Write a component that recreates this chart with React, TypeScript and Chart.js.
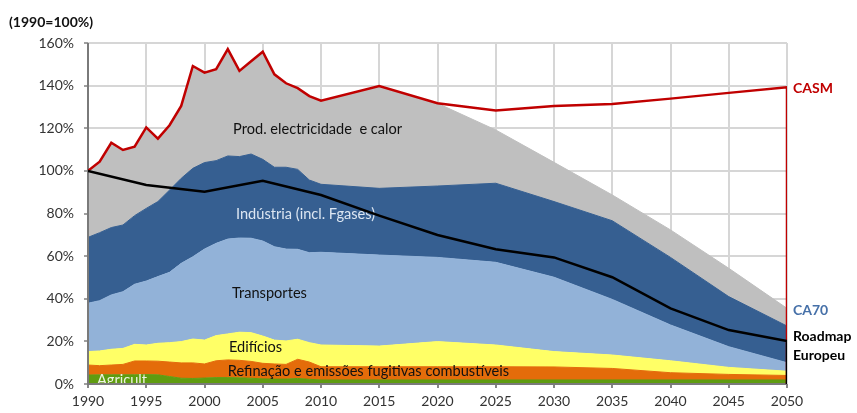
import React, { useEffect, useRef } from "react";
import { Chart, registerables } from "chart.js";

Chart.register(...registerables);

// ---- data (% of 1990 emissions) ----
const years = [
  1990, 1991, 1992, 1993, 1994, 1995, 1996, 1997, 1998, 1999, 2000,
  2001, 2002, 2003, 2004, 2005, 2006, 2007, 2008, 2009, 2010,
  2015, 2020, 2025, 2030, 2035, 2040, 2045, 2050,
];
const agriculture = [
  4.2, 4.3, 4.3, 4.3, 4.3, 4.4, 4.3, 3.5, 2.7, 2.6, 2.8,
  3.0, 3.0, 2.9, 2.7, 2.4, 2.3, 2.3, 2.6, 2.2, 1.9,
  1.9, 1.9, 1.9, 1.9, 1.9, 1.9, 1.9, 1.9,
];
const refining = [
  4.7, 4.3, 4.6, 4.9, 6.5, 6.4, 6.4, 6.8, 7.2, 7.3, 6.6,
  7.9, 8.3, 8.2, 7.9, 7.3, 7.1, 6.9, 9.0, 8.1, 6.2,
  6.2, 6.2, 6.2, 6.1, 5.4, 3.4, 2.6, 2.1,
];
const buildings = [
  6.3, 6.9, 7.4, 7.5, 7.8, 7.5, 8.4, 9.1, 10.0, 11.2, 11.2,
  11.8, 12.2, 13.2, 13.5, 12.8, 11.2, 11.0, 9.4, 9.1, 10.2,
  9.7, 11.8, 10.2, 7.2, 6.3, 5.6, 3.3, 2.0,
];
const transport = [
  22.7, 23.6, 25.5, 26.6, 28.2, 30.0, 31.3, 33.0, 36.7, 38.6, 42.7,
  43.3, 44.5, 44.2, 44.3, 44.6, 43.8, 43.1, 42.2, 42.2, 43.5,
  42.7, 39.5, 38.8, 34.9, 26.1, 16.8, 9.7, 4.0,
];
const industry = [
  30.9, 31.9, 31.6, 31.3, 32.2, 34.1, 35.2, 38.6, 39.9, 41.5, 40.6,
  38.8, 39.0, 38.2, 39.5, 38.3, 37.3, 38.4, 37.5, 34.1, 31.9,
  31.3, 33.5, 37.1, 35.5, 36.9, 31.7, 23.5, 17.2,
];
const electricity = [
  31.2, 33.3, 39.8, 35.2, 32.4, 38.0, 29.5, 30.4, 34.0, 48.0, 42.2,
  42.9, 50.1, 40.2, 43.5, 50.5, 43.6, 39.4, 38.1, 39.4, 39.2,
  48.0, 38.8, 25.0, 18.4, 12.1, 12.9, 13.3, 8.3,
];
const casm = [
  100, 104.3, 113.2, 109.8, 111.4, 120.4, 115.1, 121.4, 130.5, 149.2, 146.1,
  147.7, 157.1, 146.9, 151.4, 155.9, 145.3, 141.1, 138.8, 135.1, 132.9,
  139.8, 131.7, 128.3, 130.4, 131.4, 133.9, 136.6, 139.2,
];
const roadmapYears = [1990, 1995, 2000, 2005, 2010, 2015, 2020, 2025, 2030, 2035, 2040, 2045, 2050];
const roadmap = [100, 93.4, 90.2, 95.4, 88.7, 79.0, 69.9, 63.2, 59.4, 50.1, 35.5, 25.3, 20.2];

const sectorNames = [
  "Agricultura",
  "Refinação e emissões fugitivas combustíveis",
  "Edifícios",
  "Transportes",
  "Indústria (incl. Fgases)",
  "Prod. electricidade e calor",
];
const sectorColors = ["#5f9c10", "#e46c0a", "#ffff66", "#92b2d8", "#365f91", "#bfbfbf"];

// in-chart labels: [text, year, value, colour]
const areaLabels: [string, number, number, string][] = [
  ["Prod. electricidade  e calor", 2002.45, 119.7, "#111111"],
  ["Indústria (incl. Fgases)", 2002.7, 79.8, "#dce6f2"],
  ["Transportes", 2002.36, 42.7, "#111111"],
  ["Edifícios", 2002.1, 17.4, "#111111"],
  ["Refinação e emissões fugitivas combustíveis", 2002.0, 5.8, "#111111"],
  ["Agricult..", 1990.77, 1.9, "#eef3e2"],
];

const FONT = "Lato, 'Open Sans', sans-serif";

export default function App() {
  const ref = useRef<HTMLCanvasElement>(null);

  useEffect(() => {
    const sectors = [agriculture, refining, buildings, transport, industry, electricity];
    const cum: number[][] = [];
    sectors.forEach((s, k) => {
      cum.push(s.map((v, i) => (k ? cum[k - 1][i] : 0) + v));
    });

    const areaDatasets = cum.map((c, k) => ({
      type: "line" as const,
      label: sectorNames[k],
      data: c.map((v, i) => ({ x: years[i], y: v })),
      fill: k === 0 ? "origin" : "-1",
      backgroundColor: sectorColors[k],
      borderColor: sectorColors[k],
      borderWidth: 1,
      pointRadius: 0,
      tension: 0,
    }));

    const casmData = casm.map((v, i) => ({ x: years[i], y: v }));
    casmData.push({ x: 2050, y: 0 });
    const roadData = roadmap.map((v, i) => ({ x: roadmapYears[i], y: v }));
    roadData.push({ x: 2050, y: 0 });

    const overlay = {
      id: "overlay",
      afterDatasetDraw(chart: any, args: any) {
        if (args.index !== 2) return;
        const { ctx, chartArea } = chart;
        const xs = chart.scales.x;
        const ys = chart.scales.y;
        ctx.save();
        ctx.beginPath();
        ctx.rect(chartArea.left, chartArea.top, chartArea.right - chartArea.left, chartArea.bottom - chartArea.top);
        ctx.clip();
        ctx.font = `14.6px ${FONT}`;
        ctx.textAlign = "left";
        ctx.textBaseline = "middle";
        for (const [t, lx, ly, col] of areaLabels) {
          ctx.fillStyle = col;
          ctx.fillText(t, xs.getPixelForValue(lx), ys.getPixelForValue(ly));
        }
        ctx.restore();
        ctx.save();
        ctx.strokeStyle = "#7a7a7a";
        ctx.lineWidth = 2;
        ctx.beginPath();
        ctx.moveTo(chartArea.left, chartArea.top);
        ctx.lineTo(chartArea.left, chartArea.bottom);
        ctx.lineTo(chartArea.right, chartArea.bottom);
        ctx.stroke();
        ctx.restore();
      },
      afterDraw(chart: any) {
        const { ctx, chartArea } = chart;
        const ys = chart.scales.y;
        ctx.save();
        ctx.textBaseline = "middle";
        ctx.textAlign = "left";
        ctx.font = `bold 14px ${FONT}`;
        ctx.fillStyle = "#111111";
        ctx.fillText("(1990=100%)", 9, 22);
        const rx = chartArea.right + 6;
        ctx.font = `bold 14px ${FONT}`;
        ctx.fillStyle = "#c00000";
        ctx.fillText("CASM", rx, ys.getPixelForValue(138.8));
        ctx.fillStyle = "#4670a8";
        ctx.fillText("CA70", rx, ys.getPixelForValue(34.7));
        ctx.fillStyle = "#000000";
        ctx.fillText("Roadmap", rx, ys.getPixelForValue(22.1));
        ctx.fillText("Europeu", rx, ys.getPixelForValue(13.3));
        ctx.restore();
      },
    };

    const chart = new Chart(ref.current as HTMLCanvasElement, {
      type: "line",
      data: {
        datasets: [
          {
            label: "Roadmap Europeu",
            data: roadData,
            borderColor: "#000000",
            borderWidth: 2.5,
            pointRadius: 0,
            fill: false,
            tension: 0,
          },
          {
            label: "CASM",
            data: casmData,
            borderColor: "#c00000",
            borderWidth: 2.5,
            pointRadius: 0,
            fill: false,
            tension: 0,
          },
          ...areaDatasets,
        ] as any,
      },
      options: {
        animation: false,
        responsive: true,
        maintainAspectRatio: false,
        layout: { padding: { top: 43, right: 70, bottom: 0, left: 0 } },
        plugins: { legend: { display: false }, tooltip: { enabled: false } },
        scales: {
          x: {
            type: "linear",
            min: 1990,
            max: 2050,
            border: { display: false },
            grid: { color: "#d6d6d6", lineWidth: 2, tickLength: 4, tickColor: "#868686" },
            ticks: {
              stepSize: 5,
              autoSkip: false,
              maxRotation: 0,
              padding: 5,
              color: "#333333",
              font: { family: FONT, size: 14 },
              callback: (v: any) => String(v),
            },
            afterFit: (s: any) => {
              s.height = 29;
            },
          },
          y: {
            min: 0,
            max: 160,
            border: { display: false },
            grid: { color: "#d6d6d6", lineWidth: 2, tickLength: 4, tickColor: "#a0a0a0" },
            ticks: {
              stepSize: 20,
              padding: 10,
              color: "#333333",
              font: { family: FONT, size: 14 },
              callback: (v: any) => `${v}%`,
            },
            afterFit: (s: any) => {
              s.width = 88;
            },
          },
        },
      },
      plugins: [overlay],
    });
    return () => chart.destroy();
  }, []);

  return (
    <div style={{ position: "fixed", left: 0, top: 0, width: 857, height: 413 }}>
      <canvas ref={ref} />
    </div>
  );
}
